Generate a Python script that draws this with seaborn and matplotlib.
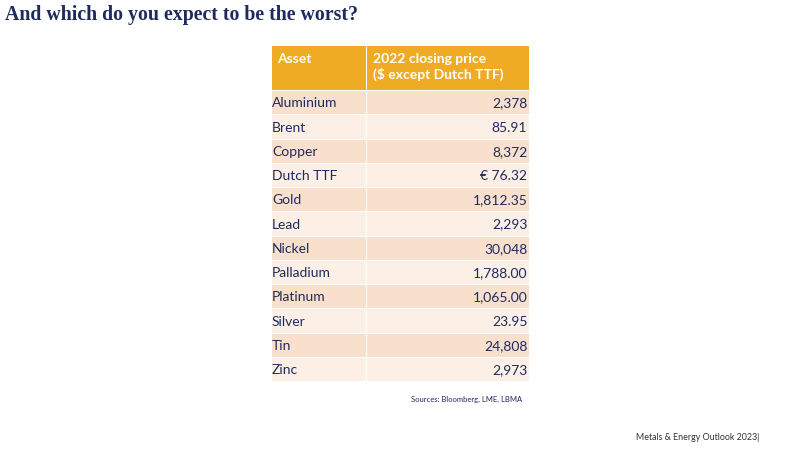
import numpy as np
import matplotlib
matplotlib.use("Agg")
import matplotlib.pyplot as plt
import seaborn as sns
from matplotlib.colors import ListedColormap

# --------------------------
# Data
# --------------------------
assets = ["Aluminium", "Brent", "Copper", "Dutch TTF", "Gold", "Lead",
          "Nickel", "Palladium", "Platinum", "Silver", "Tin", "Zinc"]
prices = ["2,378", "85.91", "8,372", "€ 76.32", "1,812.35", "2,293",
          "30,048", "1,788.00", "1,065.00", "23.95", "24,808", "2,973"]
header_asset = "Asset"
header_price = "2022 closing price\n($ except Dutch TTF)"

title = "And which do you expect to be the worst?"
source = "Sources: Bloomberg, LME, LBMA"
footer = "Metals & Energy Outlook 2023|"

# colours
navy = "#1F2B5E"
orange = "#EFAB24"
dark_row = "#F8E0CC"
light_row = "#FBEFE6"

sns.set_theme(style="white")
plt.rcParams['font.family'] = ['Lato', 'DejaVu Sans']

W, H = 800, 450
fig = plt.figure(figsize=(8, 4.5), dpi=100)
fig.patch.set_facecolor("white")


def px_axes(x0, y0, x1, y1):
    return fig.add_axes([x0 / W, 1 - y1 / H, (x1 - x0) / W, (y1 - y0) / H])


n = len(assets)
shade = np.array([[i % 2] for i in range(n)])
row_cmap = ListedColormap([dark_row, light_row])

# body columns
cols = [(271, 366, assets, "left"), (366, 529, prices, "right")]
for x0, x1, labels, ha in cols:
    ax = px_axes(x0, 90, x1, 381)
    sns.heatmap(shade, cmap=row_cmap, vmin=0, vmax=1, cbar=False,
                linewidths=0.7, linecolor="white", ax=ax)
    ax.set_xticks([])
    ax.set_yticks([])
    for i, lab in enumerate(labels):
        xpos = 0.01 if ha == "left" else 0.99
        ax.text(xpos, i + 0.55, lab, ha=ha, va="center",
                fontsize=10, color=navy)

# header
for x0, x1, lab, xoff in [(271, 366, header_asset, 0.06),
                           (366, 529, header_price, 0.045)]:
    ax = px_axes(x0, 45, x1, 90)
    sns.heatmap(np.array([[0]]), cmap=ListedColormap([orange]), cbar=False,
                linewidths=0.7, linecolor="white", ax=ax)
    ax.set_xticks([])
    ax.set_yticks([])
    ax.text(xoff, 0.17, lab, ha="left", va="top", fontsize=10,
            fontweight="bold", color="white", linespacing=1.25)

# title, source, footer
fig.text(5 / W, 1 - 15 / H, title, ha="left", va="center", fontsize=14.3,
         fontweight="bold", color=navy,
         family=["Liberation Serif", "DejaVu Serif"])
fig.text(411 / W, 1 - 399 / H, source, ha="left", va="center",
         fontsize=5.5, color=navy)
fig.text(636 / W, 1 - 438 / H, footer, ha="left", va="center",
         fontsize=6.4, color="#333333")

fig.savefig("out.png", dpi=100)
